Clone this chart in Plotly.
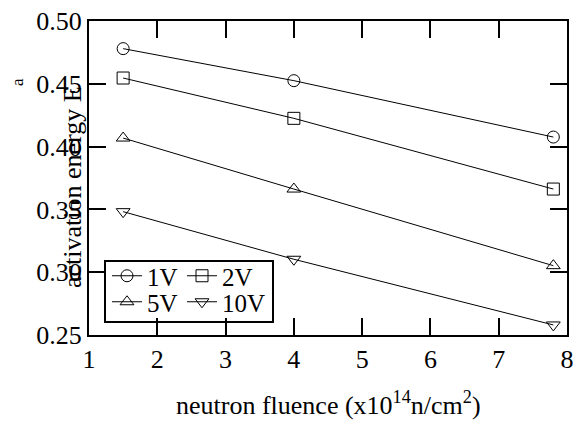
import plotly.graph_objects as go

# Neutron fluence (x10^14 n/cm^2) and activation energy Ea (eV) per bias voltage
fluence = [1.5, 4.0, 7.8]
ea_1v = [0.478, 0.4525, 0.4076]
ea_2v = [0.4546, 0.4225, 0.3662]
ea_5v = [0.4068, 0.3662, 0.3052]
ea_10v = [0.3482, 0.3103, 0.2580]

series_names = ["1V", "2V", "5V", "10V"]
series_values = [ea_1v, ea_2v, ea_5v, ea_10v]
symbols = ["circle-open", "square-open", "triangle-up-open", "triangle-down-open"]

x_ticks = [1, 2, 3, 4, 5, 6, 7, 8]
y_ticks = [0.25, 0.30, 0.35, 0.40, 0.45, 0.50]

FONT = "Liberation Serif, Times New Roman, serif"
W, H = 575, 425
ML, MR, MT, MB = 89, 8, 21, 90
PW, PH = W - ML - MR, H - MT - MB


def px_x(px):
    return (px - ML) / PW


def px_y(py):
    return (H - MB - py) / PH


# legend entry positions (px from page top-left): left, top
legend_pos = [(107, 253), (182, 253), (107, 279), (182, 279)]
legend_ids = ["legend", "legend2", "legend3", "legend4"]

fig = go.Figure()
for name, vals, sym, lid in zip(series_names, series_values, symbols, legend_ids):
    fig.add_trace(go.Scatter(
        x=fluence, y=vals, name=name, mode="lines+markers",
        line=dict(color="black", width=1),
        marker=dict(symbol=sym, size=12, color="black", line=dict(color="black", width=1)),
        legend=lid,
    ))

axis_common = dict(
    showline=True, linecolor="black", linewidth=2, mirror="ticks",
    ticks="inside", ticklen=17, tickwidth=2, tickcolor="black",
    showgrid=False, zeroline=False, automargin=False,
    tickfont=dict(family=FONT, size=26, color="black"),
)

layout = dict(
    width=W, height=H,
    margin=dict(l=ML, r=MR, t=MT, b=MB, autoexpand=False),
    paper_bgcolor="white", plot_bgcolor="white",
    showlegend=True,
    xaxis=dict(range=[1, 8], tickvals=x_ticks, ticktext=[str(v) for v in x_ticks], **axis_common),
    yaxis=dict(range=[0.25, 0.50], tickvals=y_ticks, ticktext=[f"{v:.2f}" for v in y_ticks], **axis_common),
)

for lid, (lx, ly) in zip(legend_ids, legend_pos):
    layout[lid] = dict(
        xref="paper", yref="paper",
        x=px_x(lx), y=px_y(ly), xanchor="left", yanchor="top",
        bgcolor="rgba(0,0,0,0)", borderwidth=0,
        font=dict(family=FONT, size=25, color="black"),
        itemwidth=30,
    )

fig.update_layout(**layout)

# frame around the legend entries
fig.add_shape(type="rect", xref="paper", yref="paper",
              x0=px_x(105), x1=px_x(273), y0=px_y(322), y1=px_y(261),
              line=dict(color="black", width=2), fillcolor="rgba(0,0,0,0)")

# axis titles
fig.add_annotation(text="neutron fluence (x10<sup>14</sup>n/cm<sup>2</sup>)",
                   xref="paper", yref="paper", x=0.5, y=px_y(403),
                   xanchor="center", yanchor="middle", showarrow=False,
                   font=dict(family=FONT, size=26, color="black"))
fig.add_annotation(text="activation energy E",
                   xref="paper", yref="paper", x=px_x(72), y=px_y(187),
                   xanchor="center", yanchor="middle", textangle=-90, showarrow=False,
                   font=dict(family=FONT, size=26, color="black"))
fig.add_annotation(text="a",
                   xref="paper", yref="paper", x=px_x(18), y=px_y(82),
                   xanchor="center", yanchor="middle", textangle=-90, showarrow=False,
                   font=dict(family=FONT, size=17, color="black"))

fig.write_html("out.html")
